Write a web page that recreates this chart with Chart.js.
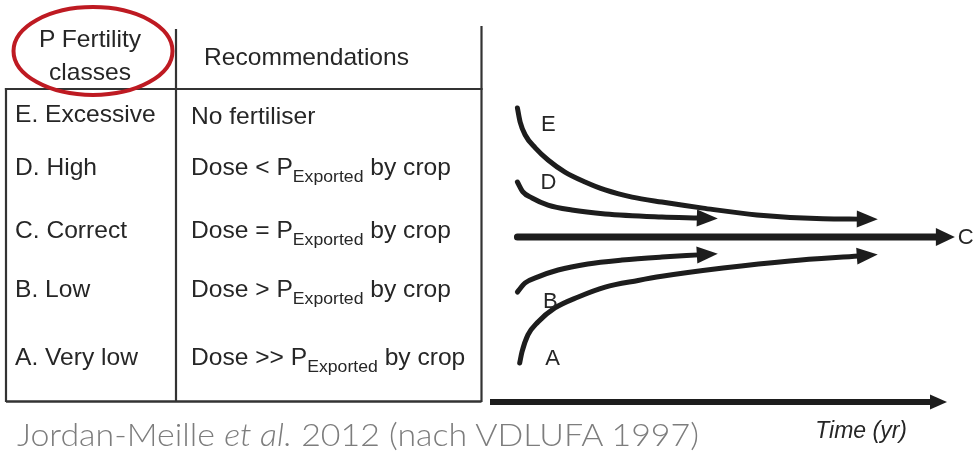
<!DOCTYPE html>
<html>
<head>
<meta charset="utf-8">
<script src="https://cdn.jsdelivr.net/npm/chart.js@4/dist/chart.umd.min.js"></script>
<style>
  html, body { margin: 0; padding: 0; background: #fff; }
  #wrap { position: relative; width: 976px; height: 452px; overflow: hidden; }
  #chart { position: absolute; left: 0; top: 0; }
  #table { position: absolute; left: 0; top: 0; }
</style>
</head>
<body>
<div id="wrap">
  <canvas id="chart" width="976" height="452"></canvas>
  <svg id="table" width="976" height="452" xmlns="http://www.w3.org/2000/svg"></svg>
</div>
<script>
// ---------- DATA ----------
const headerClasses = ['P Fertility', 'classes'];
const headerRecs = 'Recommendations';
const categories = ['E. Excessive', 'D. High', 'C. Correct', 'B. Low', 'A. Very low'];
const recPrefix = ['No fertiliser', 'Dose < P', 'Dose = P', 'Dose > P', 'Dose >> P'];
const recSub = ['', 'Exported', 'Exported', 'Exported', 'Exported'];
const recSuffix = ['', ' by crop', ' by crop', ' by crop', ' by crop'];

const seriesNames = ['E', 'D', 'C', 'B', 'A'];
const timeE = [0, 0.06, 0.17, 0.39, 0.67, 1.04, 1.48, 1.92, 2.51, 3.16, 4.06, 5.24, 6.69, 7.47];
const levelE = [10.69, 10.18, 9.71, 9.24, 8.80, 8.36, 8.00, 7.71, 7.45, 7.27, 7.05, 6.80, 6.66, 6.65];
const timeD = [0, 0.12, 0.32, 0.67, 1.19, 1.92, 3.16, 3.97];
const levelD = [8.0, 7.64, 7.42, 7.16, 6.98, 6.84, 6.73, 6.69];
const timeC = [0, 9.2];
const levelC = [6.0, 6.0];
const timeB = [0, 0.17, 0.45, 0.89, 1.54, 2.29, 3.16, 3.97];
const levelB = [4.0, 4.33, 4.55, 4.80, 5.02, 5.16, 5.27, 5.35];
const timeA = [0.05, 0.10, 0.23, 0.45, 0.82, 1.33, 1.92, 2.64, 3.16, 4.50, 5.96, 7.47];
const levelA = [1.42, 1.82, 2.44, 2.91, 3.42, 3.82, 4.18, 4.42, 4.57, 4.87, 5.13, 5.31];
const axisTitle = 'Time (yr)';
const citePre = 'Jordan-Meille ';
const citeItalic = 'et al.';
const citePost = ' 2012 (nach VDLUFA 1997)';

// ---------- STYLE ----------
const INK = '#1d1d1d';
const TXT = '#262626';
const labelOffsets = { E: [31, 17], D: [31, 1], B: [33, 10], A: [33, -4] };

// ---------- TABLE (SVG) ----------
const NS = 'http://www.w3.org/2000/svg';
const svg = document.getElementById('table');
function el(tag, attrs, parent) {
  const e = document.createElementNS(NS, tag);
  for (const k in attrs) e.setAttribute(k, attrs[k]);
  (parent || svg).appendChild(e);
  return e;
}
const lineStyle = { stroke: '#333', 'stroke-width': 2.2, 'stroke-linecap': 'square' };
el('line', Object.assign({ x1: 176, y1: 30, x2: 176, y2: 401 }, lineStyle));
el('line', Object.assign({ x1: 481.5, y1: 27, x2: 481.5, y2: 401 }, lineStyle));
el('line', Object.assign({ x1: 6, y1: 89, x2: 481.5, y2: 89 }, lineStyle));
el('line', Object.assign({ x1: 6, y1: 89, x2: 6, y2: 401 }, lineStyle));
el('line', Object.assign({ x1: 6, y1: 401.5, x2: 481.5, y2: 401.5 }, { stroke: '#333', 'stroke-width': 2.6 }));

const SX = 1.07;
function scaledText(x, y, anchor, parts) {
  const g = el('g', { transform: `translate(${x},${y}) scale(${SX},1)` });
  const t = el('text', {
    x: 0, y: 0, 'text-anchor': anchor,
    'font-family': 'Liberation Sans, Arial, Helvetica, sans-serif',
    'font-size': 23, fill: TXT
  }, g);
  parts.forEach(p => {
    const ts = el('tspan', p.attrs || {}, t);
    ts.textContent = p.text;
  });
  return t;
}
scaledText(90, 47, 'middle', [{ text: headerClasses[0] }]);
scaledText(90, 80, 'middle', [{ text: headerClasses[1] }]);
scaledText(204, 65, 'start', [{ text: headerRecs }]);

const catBase = [122, 175, 238, 297, 365];
const recBase = [124, 175, 238, 297, 365];
categories.forEach((c, i) => {
  scaledText(15, catBase[i], 'start', [{ text: c }]);
  const parts = [{ text: recPrefix[i] }];
  if (recSub[i]) {
    parts.push({ text: recSub[i], attrs: { 'font-size': 16.5, dy: 7 } });
    parts.push({ text: recSuffix[i], attrs: { 'font-size': 23, dy: -7 } });
  }
  scaledText(191, recBase[i], 'start', parts);
});

// red ellipse
el('ellipse', { cx: 93, cy: 51, rx: 79.5, ry: 44, fill: 'none', stroke: '#BE1A22', 'stroke-width': 4 });

// citation
const cite = el('text', {
  x: 17, y: 446, 'font-family': 'Lato, Open Sans, sans-serif', 'font-weight': 300,
  'font-size': 31, fill: '#7d7d7d', textLength: 682, lengthAdjust: 'spacingAndGlyphs'
});
[[citePre, 'normal'], [citeItalic, 'italic'], [citePost, 'normal']].forEach(([t, st]) => {
  const ts = el('tspan', { 'font-style': st }, cite);
  ts.textContent = t;
});

// ---------- CHART ----------
function pts(xs, ys) { return xs.map((x, i) => ({ x, y: ys[i] })); }
const seriesData = [pts(timeE, levelE), pts(timeD, levelD), pts(timeC, levelC), pts(timeB, levelB), pts(timeA, levelA)];

function arrowHead(ctx, bx, by, ang, len, hw) {
  const cx = Math.cos(ang), sy = Math.sin(ang);
  const tipX = bx + cx * len, tipY = by + sy * len;
  const bbx = bx - cx * 2, bby = by - sy * 2;
  ctx.beginPath();
  ctx.moveTo(tipX, tipY);
  ctx.lineTo(bbx - sy * hw, bby + cx * hw);
  ctx.lineTo(bbx + sy * hw, bby - cx * hw);
  ctx.closePath();
  ctx.fill();
  return [tipX, tipY];
}

const arrowsPlugin = {
  id: 'arrows',
  afterDatasetsDraw(chart) {
    const ctx = chart.ctx;
    const xs = chart.scales.x;
    const a = chart.chartArea;
    ctx.save();
    ctx.fillStyle = INK;
    ctx.strokeStyle = INK;
    // time axis
    const x0 = xs.getPixelForValue(xs.min), x1 = xs.getPixelForValue(xs.max);
    const y0 = a.bottom;
    ctx.lineWidth = 6;
    ctx.lineCap = 'butt';
    ctx.beginPath();
    ctx.moveTo(x0, y0);
    ctx.lineTo(x1 - 14, y0);
    ctx.stroke();
    arrowHead(ctx, x1 - 15, y0, 0, 15, 7.5);
    ctx.font = 'italic 23px "Liberation Sans", Arial, sans-serif';
    ctx.textAlign = 'right';
    ctx.textBaseline = 'alphabetic';
    ctx.fillStyle = TXT;
    ctx.fillText(axisTitle, x1 - 40, y0 + 36);
    ctx.fillStyle = INK;

    ctx.font = '22px "Liberation Sans", Arial, sans-serif';
    chart.data.datasets.forEach((ds, i) => {
      const p = chart.getDatasetMeta(i).data;
      const last = p[p.length - 1], prev = p[p.length - 2];
      const ang = Math.atan2(last.y - prev.y, last.x - prev.x);
      const big = ds.label === 'C';
      const tip = arrowHead(ctx, last.x, last.y, ang, big ? 17 : 19, big ? 9 : 8.5);
      ctx.fillStyle = TXT;
      ctx.textBaseline = 'middle';
      if (big) {
        ctx.textAlign = 'left';
        ctx.fillText(ds.label, tip[0] + 3, tip[1] + 1);
      } else {
        const off = labelOffsets[ds.label];
        ctx.textAlign = 'center';
        ctx.fillText(ds.label, p[0].x + off[0], p[0].y + off[1]);
      }
      ctx.fillStyle = INK;
    });
    ctx.restore();
  }
};

new Chart(document.getElementById('chart'), {
  type: 'line',
  data: {
    datasets: seriesNames.map((n, i) => ({
      label: n,
      data: seriesData[i],
      borderColor: INK,
      borderWidth: n === 'C' ? 7 : 5,
      borderCapStyle: 'round',
      cubicInterpolationMode: 'monotone',
      pointRadius: 0,
      fill: false,
      clip: false
    }))
  },
  options: {
    responsive: false,
    animation: false,
    devicePixelRatio: 1,
    layout: { padding: { left: 490, right: 29, top: 72, bottom: 50 } },
    plugins: { legend: { display: false }, tooltip: { enabled: false } },
    scales: {
      x: { type: 'linear', min: -0.6, max: 9.4, display: false },
      y: { type: 'linear', min: 0, max: 12, display: false }
    }
  },
  plugins: [arrowsPlugin]
});
</script>
</body>
</html>
